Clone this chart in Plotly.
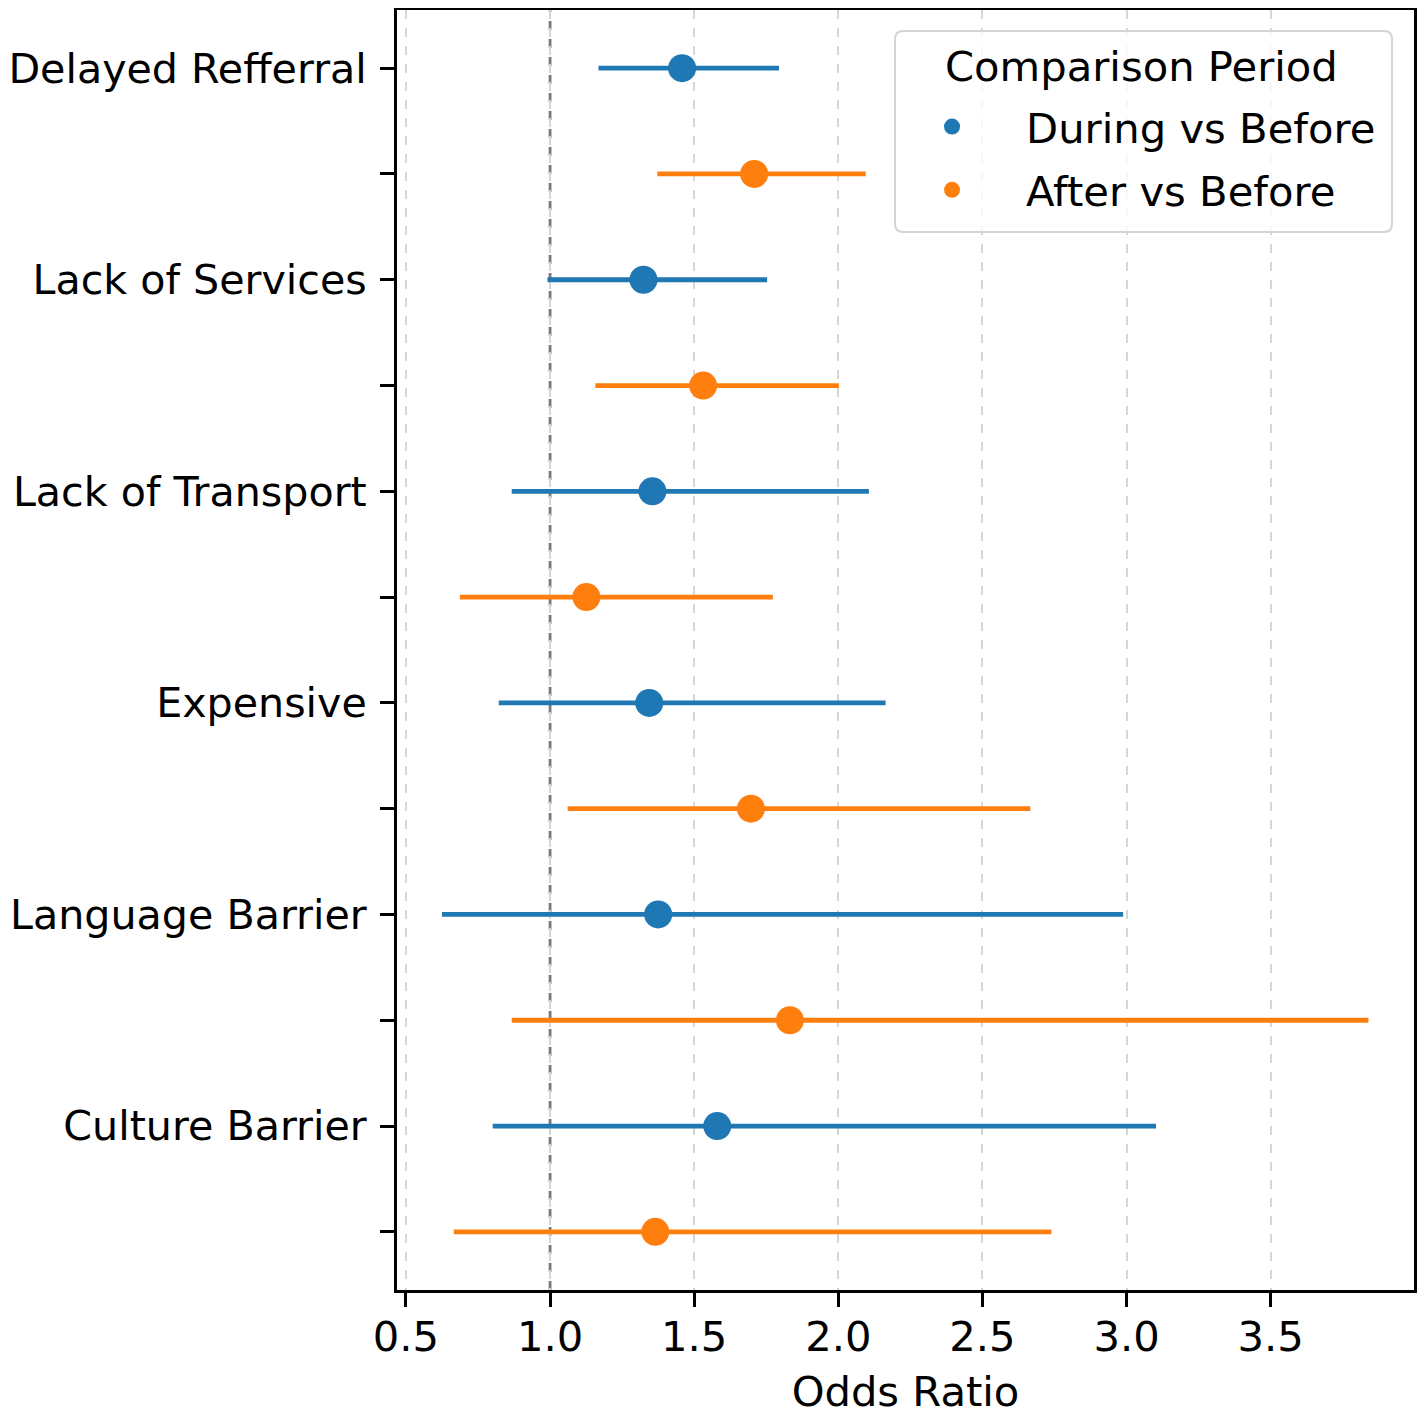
import plotly.graph_objects as go

categories = ["Delayed Refferral", "Lack of Services", "Lack of Transport",
              "Expensive", "Language Barrier", "Culture Barrier"]

during_or = [1.458, 1.324, 1.355, 1.344, 1.375, 1.580]
during_lo = [1.168, 0.991, 0.867, 0.822, 0.625, 0.801]
during_hi = [1.794, 1.753, 2.106, 2.164, 2.988, 3.102]

after_or = [1.708, 1.531, 1.126, 1.697, 1.832, 1.365]
after_lo = [1.372, 1.157, 0.687, 1.061, 0.867, 0.666]
after_hi = [2.095, 2.002, 1.773, 2.666, 3.839, 2.739]

x_ticks = [0.5, 1.0, 1.5, 2.0, 2.5, 3.0, 3.5]
series_names = ["During vs Before", "After vs Before"]
legend_title = "Comparison Period"
colors = ["#1f77b4", "#ff7f0e"]

FONT = "DejaVu Sans"
FS = 41.7
FS_Y = 41.2

n = len(categories)
y_during = [2 * i for i in range(n)]
y_after = [2 * i + 1 for i in range(n)]
tickvals = list(range(2 * n))
ticktext = []
for i in range(n):
    ticktext += [categories[i], ""]

fig = go.Figure()

for name, col, est, lo, hi, ys in [
    (series_names[0], colors[0], during_or, during_lo, during_hi, y_during),
    (series_names[1], colors[1], after_or, after_lo, after_hi, y_after),
]:
    fig.add_trace(go.Scatter(
        x=est, y=ys, mode="markers", name=name, showlegend=False,
        marker=dict(color=col, size=28),
        error_x=dict(type="data", symmetric=False,
                     array=[h - e for h, e in zip(hi, est)],
                     arrayminus=[e - l for e, l in zip(est, lo)],
                     color=col, thickness=4.8, width=0),
    ))

for k, (name, col) in enumerate(zip(series_names, colors)):
    fig.add_trace(go.Scatter(
        x=[None], y=[None], mode="markers", name=name, legendgroup=f"g{k}",
        marker=dict(color=col, size=21),
    ))

fig.add_shape(type="line", xref="x", yref="paper", x0=1.0, x1=1.0, y0=0, y1=1,
              line=dict(color="#7a7a7a", width=2.8, dash="dash"), layer="between")

# legend frame (rounded box) in paper coordinates
bx0, bx1, by0, by1 = 0.4897, 0.9784, 0.8266, 0.9836
rx, ry = 0.0079, 0.0063
path = (f"M {bx0+rx},{by0} L {bx1-rx},{by0} Q {bx1},{by0} {bx1},{by0+ry} "
        f"L {bx1},{by1-ry} Q {bx1},{by1} {bx1-rx},{by1} "
        f"L {bx0+rx},{by1} Q {bx0},{by1} {bx0},{by1-ry} "
        f"L {bx0},{by0+ry} Q {bx0},{by0} {bx0+rx},{by0} Z")
fig.add_shape(type="path", xref="paper", yref="paper", path=path,
              fillcolor="rgba(255,255,255,0.8)",
              line=dict(color="#d4d4d4", width=2), layer="above")
fig.add_annotation(xref="paper", yref="paper", x=0.7316, y=0.956,
                   text=legend_title, showarrow=False,
                   xanchor="center", yanchor="middle",
                   font=dict(family=FONT, size=FS, color="black"))

fig.update_layout(
    width=1417, height=1408,
    margin=dict(l=389, r=11, t=2, b=126, pad=0, autoexpand=False),
    paper_bgcolor="white", plot_bgcolor="white",
    font=dict(family=FONT, size=FS, color="black"),
    showlegend=True,
    legend=dict(
        x=0.473, y=0.884, xanchor="left", yanchor="middle",
        bgcolor="rgba(0,0,0,0)", borderwidth=0,
        font=dict(family=FONT, size=FS),
        itemwidth=138,
        tracegroupgap=6,
    ),
    xaxis=dict(
        range=[0.469, 3.997], tickvals=x_ticks,
        ticktext=[f"{v:.1f}" for v in x_ticks],
        showgrid=True, gridcolor="#d6d6d6", gridwidth=2, griddash="dash",
        zeroline=False, showline=True, linecolor="black", linewidth=3, mirror=True,
        ticks="outside", ticklen=14, tickwidth=3, tickcolor="black",
        tickfont=dict(family=FONT, size=FS), automargin=False,
        ticklabelstandoff=-6,
        title=dict(text="Odds Ratio", font=dict(family=FONT, size=FS), standoff=19),
    ),
    yaxis=dict(
        range=[2 * n - 1 + 0.55, -0.55], tickvals=tickvals, ticktext=ticktext,
        showgrid=False, zeroline=False, showline=True, linecolor="black",
        linewidth=3, mirror=True, automargin=False,
        ticks="outside", ticklen=14, tickwidth=3, tickcolor="black",
        tickfont=dict(family=FONT, size=FS_Y), ticklabelstandoff=5,
    ),
)

fig.write_html("out.html")
